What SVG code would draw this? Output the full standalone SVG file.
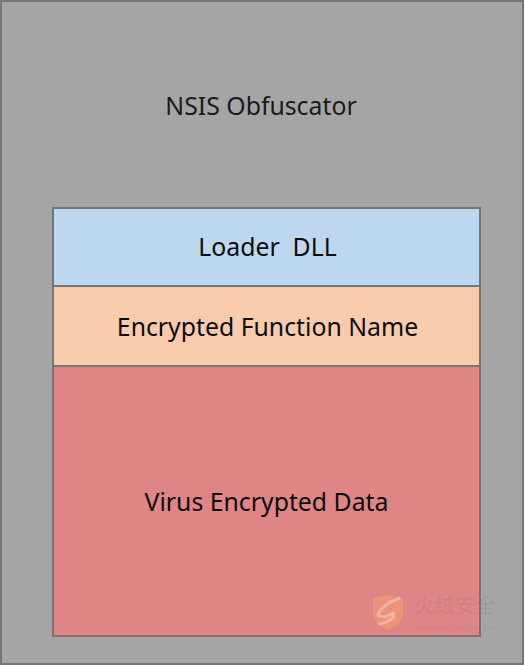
<svg xmlns="http://www.w3.org/2000/svg" width="524" height="665" viewBox="0 0 524 665">
<style>
.box{stroke:#767676;stroke-width:2}
text{font-family:"Noto Sans","Open Sans",sans-serif;font-size:24.8px;fill:#0c0c0c;text-anchor:middle}
#outer text{fill:#1a1a1a}
#watermark text{fill:#6b6b6b;fill-opacity:.16;text-anchor:start}
</style>
<g id="outer"><rect class="box" x="1" y="1" width="522" height="663" fill="#a5a5a5"/><text x="261" y="115">NSIS Obfuscator</text></g>
<g id="loader"><rect class="box" x="53" y="208" width="427" height="78" fill="#bdd7ee"/><text x="267.500" y="256" xml:space="preserve">Loader  DLL</text></g>
<g id="function"><rect class="box" x="53" y="286" width="427" height="80" fill="#f8cbad"/><text x="267.500" y="336">Encrypted Function Name</text></g>
<g id="data"><rect class="box" x="53" y="366" width="427" height="270" fill="#e08585"/><text x="266.500" y="511">Virus Encrypted Data</text></g>
<g id="watermark">
<path d="M373 598 L388 595 L403 598 L403 615 Q401 625 388 630 Q375 625 373 615 Z" fill="#f4a070" fill-opacity=".55"/>
<path d="M400 598 Q382 604 378 615 Q384 619 393 613 Q396 618 386 622 Q382 624 378 624" fill="none" stroke="#f6c8c0" stroke-opacity=".6" stroke-width="3"/>
<text x="414" y="613" style="font-family:'Noto Sans CJK SC',sans-serif;font-size:20.500px">火绒安全</text>
<text x="415" y="630" style="font-family:'Liberation Sans',sans-serif;font-size:7.500px" textLength="80" lengthAdjust="spacingAndGlyphs">WWW.HUORONG.CN</text>
</g>
</svg>
